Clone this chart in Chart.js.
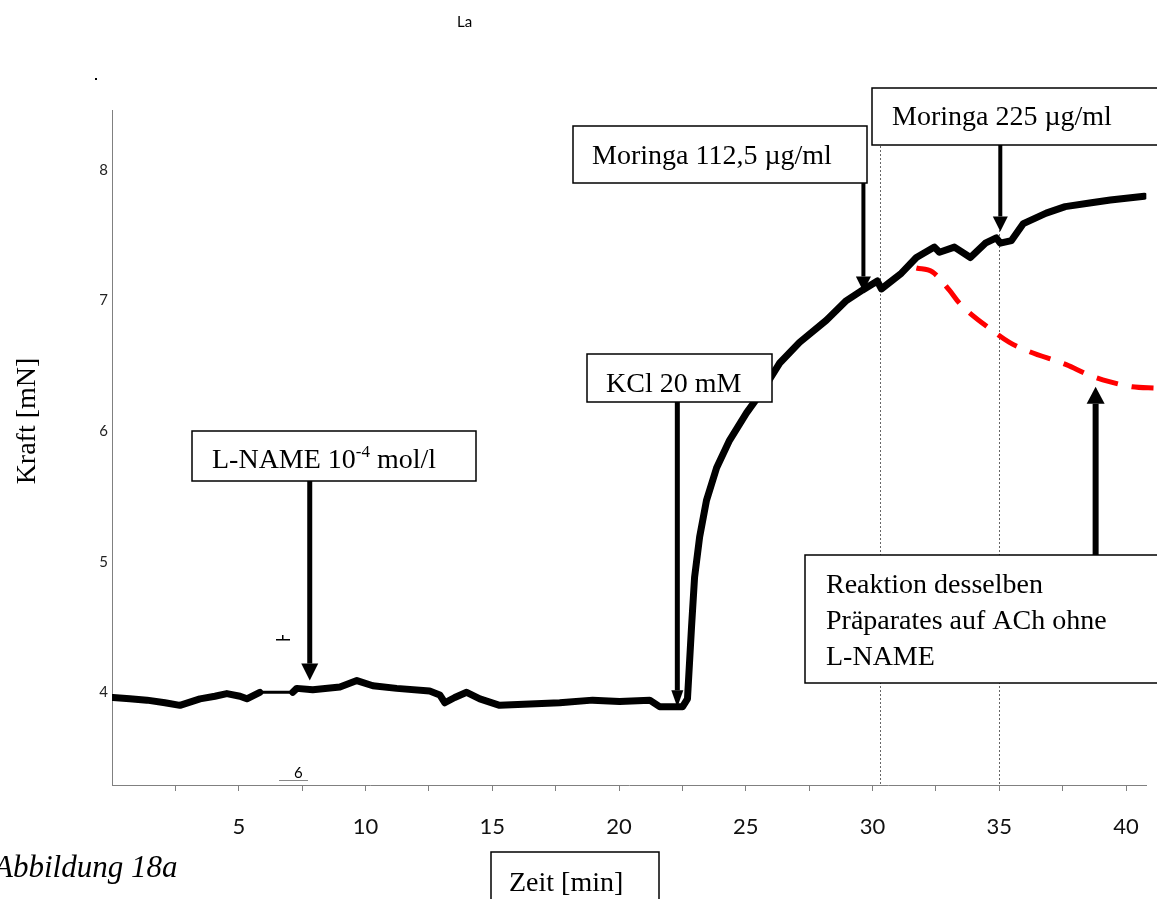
<!DOCTYPE html>
<html lang="de">
<head>
<meta charset="UTF-8">
<title>Abbildung 18a - Kraft [mN] über Zeit [min]</title>
<script src="https://cdn.jsdelivr.net/npm/chart.js@4"></script>
<style>
    html, body { margin: 0; padding: 0; background: #fff; }
    #chart { display: block; }
</style>
</head>
<body>
<canvas id="chart" width="1157" height="899"></canvas>
<script>
    // trace with L-NAME (black)
    const tBlack = [0.04, 0.7, 1.38, 2.09, 2.68, 3.47, 4.06, 4.53, 5.05, 5.32,
        5.83, 7.13, 7.29, 7.92, 8.99, 9.66, 10.29, 11.23, 12.53, 12.93,
        13.13, 13.52, 13.99, 14.51, 15.29, 16.48, 17.66, 18.96, 20.02, 21.21,
        21.6, 22.51, 22.7, 22.86, 22.98, 23.18, 23.45, 23.85, 24.36, 25.03,
        25.66, 26.33, 27.12, 28.18, 28.97, 29.6, 30.19, 30.35, 31.14, 31.73,
        32.44, 32.64, 33.23, 33.86, 34.45, 34.88, 35.04, 35.48, 35.95, 36.85,
        37.6, 38.63, 39.38, 40.72];
    const fBlack = [3.96, 3.95, 3.94, 3.92, 3.90, 3.95, 3.97, 3.99, 3.97, 3.95,
        4.00, 4.00, 4.03, 4.02, 4.04, 4.09, 4.05, 4.03, 4.01, 3.98,
        3.92, 3.96, 4.00, 3.95, 3.90, 3.91, 3.92, 3.94, 3.93, 3.94,
        3.89, 3.89, 3.95, 4.50, 4.88, 5.19, 5.47, 5.72, 5.93, 6.14,
        6.31, 6.52, 6.68, 6.85, 7.00, 7.08, 7.15, 7.09, 7.21, 7.33,
        7.41, 7.37, 7.41, 7.33, 7.44, 7.48, 7.44, 7.46, 7.59, 7.67,
        7.72, 7.75, 7.77, 7.80];

    // same preparation with ACh, without L-NAME (red dashed)
    const tRed = [31.73, 32.36, 33.03, 33.43, 34.73, 35.40, 36.18, 37.64, 38.55, 39.34, 40.24, 41.19];
    const fRed = [7.25, 7.22, 7.08, 6.98, 6.77, 6.68, 6.61, 6.51, 6.43, 6.38, 6.34, 6.33];

    // dotted markers and arrow tips (time in min, force in mN)
    const markerLines = [30.3, 35.0];
    const arrowTimes = [7.8, 22.3, 29.64, 35.04, 38.8];
    const arrowForces = [4.09, 3.885, 7.07, 7.53, 6.34];

    const xTicks = [5, 10, 15, 20, 25, 30, 35, 40];
    const yTicks = [4, 5, 6, 7, 8];

    const SERIF = '"Liberation Serif", "Times New Roman", serif';

    // label boxes (pixel layout), arrows start at their edge
    const boxes = [
        { x: 192, y: 431, w: 284, h: 50, tx: 212, ty: 468, lines: [['L-NAME 10', { sup: '-4' }, ' mol/l']] },
        { x: 587, y: 354, w: 185, h: 48, tx: 606, ty: 392, lines: [['KCl 20 mM']] },
        { x: 573, y: 126, w: 294, h: 57, tx: 592, ty: 164, lines: [['Moringa 112,5 \u00b5g/ml']] },
        { x: 872, y: 88, w: 300, h: 57, tx: 892, ty: 125, lines: [['Moringa 225 \u00b5g/ml']] },
        { x: 805, y: 555, w: 360, h: 128, tx: 826, ty: 593, lines: [['Reaktion desselben'], ['Pr\u00e4parates auf ACh ohne'], ['L-NAME']] },
        { x: 491, y: 852, w: 168, h: 60, tx: 509, ty: 891, lines: [['Zeit [min]']] }
    ];
    const arrowFrom = [481, 402, 183, 145, 555];
    const arrowStyle = [
        { shaft: 5, headW: 17, headL: 17 },
        { shaft: 5, headW: 12, headL: 17 },
        { shaft: 4, headW: 15, headL: 15 },
        { shaft: 4, headW: 15, headL: 15 },
        { shaft: 6, headW: 18, headL: 17 }
    ];

    function drawArrow(ctx, x, yFrom, yTo, s) {
        const dir = yTo > yFrom ? 1 : -1;
        const yBase = yTo - dir * s.headL;
        ctx.fillRect(x - s.shaft / 2, Math.min(yFrom, yBase), s.shaft, Math.abs(yBase - yFrom));
        ctx.beginPath();
        ctx.moveTo(x - s.headW / 2, yBase);
        ctx.lineTo(x + s.headW / 2, yBase);
        ctx.lineTo(x, yTo);
        ctx.closePath();
        ctx.fill();
    }

    function drawBox(ctx, b) {
        ctx.fillStyle = '#fff';
        ctx.fillRect(b.x, b.y, b.w, b.h);
        ctx.strokeStyle = '#000';
        ctx.lineWidth = 1.5;
        ctx.strokeRect(b.x, b.y, b.w, b.h);
        ctx.fillStyle = '#000';
        ctx.textAlign = 'left';
        ctx.textBaseline = 'alphabetic';
        b.lines.forEach((line, i) => {
            let x = b.tx;
            const y = b.ty + i * 36;
            line.forEach(run => {
                if (typeof run === 'string') {
                    ctx.font = '28px ' + SERIF;
                    ctx.fillText(run, x, y);
                    x += ctx.measureText(run).width;
                } else {
                    ctx.font = '17px ' + SERIF;
                    ctx.fillText(run.sup, x, y - 11);
                    x += ctx.measureText(run.sup).width;
                }
            });
        });
    }

    const annotate = {
        id: 'annotate',
        beforeDatasetsDraw(chart) {
            const { ctx, chartArea, scales: { x } } = chart;
            ctx.save();
            ctx.strokeStyle = '#666';
            ctx.lineWidth = 1;
            ctx.setLineDash([2, 2]);
            markerLines.forEach(t => {
                const px = Math.round(x.getPixelForValue(t)) + 0.5;
                ctx.beginPath();
                ctx.moveTo(px, chartArea.top);
                ctx.lineTo(px, chartArea.bottom);
                ctx.stroke();
            });
            ctx.restore();
        },
        afterDatasetsDraw(chart) {
            const { ctx, scales: { x, y } } = chart;
            ctx.save();
            ctx.fillStyle = '#000';
            arrowTimes.forEach((t, i) => {
                drawArrow(ctx, x.getPixelForValue(t), arrowFrom[i], y.getPixelForValue(arrowForces[i]), arrowStyle[i]);
            });
            boxes.forEach(b => drawBox(ctx, b));

            // axis title
            ctx.save();
            ctx.translate(28, 421);
            ctx.rotate(-Math.PI / 2);
            ctx.font = '28px ' + SERIF;
            ctx.textAlign = 'center';
            ctx.textBaseline = 'middle';
            ctx.fillStyle = '#000';
            ctx.fillText('Kraft [mN]', 0, 0);
            ctx.restore();

            // caption
            ctx.font = 'italic 31px ' + SERIF;
            ctx.textAlign = 'left';
            ctx.fillStyle = '#000';
            ctx.fillText('Abbildung 18a', -6, 877);

            // leftovers from the original recorder export
            ctx.font = '15px Lato, sans-serif';
            ctx.fillText('La', 457, 27);
            ctx.fillText('6', 294, 778);
            ctx.fillStyle = '#888';
            ctx.fillRect(279, 780, 29, 1);
            ctx.fillStyle = '#000';
            ctx.fillRect(276, 639, 14, 1.5);
            ctx.fillRect(282, 635, 1.5, 4);
            ctx.fillRect(95, 78, 2, 2);
            ctx.restore();
        }
    };

    const keepTicks = list => scale => {
        scale.ticks = list.map(v => ({ value: v }));
    };

    new Chart(document.getElementById('chart'), {
        type: 'line',
        data: {
            datasets: [{
                label: 'mit L-NAME',
                data: tBlack.map((t, i) => ({ x: t, y: fBlack[i] })),
                borderColor: '#000',
                borderWidth: 7,
                borderJoinStyle: 'round',
                borderCapStyle: 'round',
                pointRadius: 0,
                tension: 0,
                segment: {
                    borderWidth: c => (c.p0.parsed.x >= 5.8 && c.p1.parsed.x <= 7.2) ? 3 : 7
                }
            }, {
                label: 'ohne L-NAME',
                data: tRed.map((t, i) => ({ x: t, y: fRed[i] })),
                borderColor: '#ff0000',
                borderWidth: 5,
                borderDash: [22, 14],
                pointRadius: 0,
                cubicInterpolationMode: 'monotone',
                clip: false
            }]
        },
        options: {
            responsive: false,
            devicePixelRatio: 1,
            animation: false,
            layout: { padding: { top: 110, right: 10, bottom: 0, left: 0 } },
            plugins: { legend: { display: false }, tooltip: { enabled: false } },
            scales: {
                x: {
                    type: 'linear',
                    min: 0,
                    max: 40.8,
                    afterBuildTicks: keepTicks([2.5, 5, 7.5, 10, 12.5, 15, 17.5, 20, 22.5, 25, 27.5, 30, 32.5, 35, 37.5, 40]),
                    afterFit: s => { s.height = 114; },
                    border: { display: true, color: '#808080', width: 1 },
                    grid: { drawOnChartArea: false, drawTicks: true, tickLength: 6, color: '#808080' },
                    ticks: {
                        padding: 18,
                        color: '#111',
                        font: { family: 'Lato, sans-serif', size: 22, lineHeight: 1.6 },
                        autoSkip: false,
                        maxRotation: 0,
                        callback: v => xTicks.includes(v) ? String(v) : ''
                    }
                },
                y: {
                    min: 3.29,
                    max: 8.46,
                    afterBuildTicks: keepTicks(yTicks),
                    afterFit: s => { s.width = 112; },
                    border: { display: true, color: '#808080', width: 1 },
                    grid: { display: false, drawTicks: false },
                    ticks: {
                        padding: 4,
                        color: '#222',
                        font: { family: 'Lato, sans-serif', size: 15 },
                        callback: v => String(v)
                    }
                }
            }
        },
        plugins: [annotate]
    });
</script>
</body>
</html>
